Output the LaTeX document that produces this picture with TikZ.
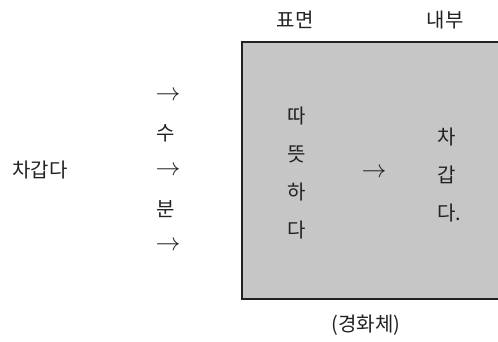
\documentclass[tikz,border=0pt]{standalone}
\usepackage{fontspec}
\newfontfamily\kr{Noto Sans CJK KR}
\definecolor{boxgray}{HTML}{C6C6C6}
\definecolor{ink}{HTML}{222222}
\tikzset{
  lbl/.style={font=\kr\fontsize{20}{22}\selectfont, text=ink, inner sep=0pt},
  arr/.style={font=\fontsize{23}{24}\selectfont, text=ink, inner sep=0pt},
}
\begin{document}
\begin{tikzpicture}[x=1pt,y=-1pt]
\useasboundingbox (0,0) rectangle (498,342);
\fill[boxgray] (242,42) rectangle (498,299);
\draw[ink, line width=1.2pt] (498,42) -- (242,42) -- (242,299) -- (498,299);
\node[lbl] (surf) at (295,20) {표면};
\node[lbl] (inner) at (445,20) {내부};
\node[lbl] (cold) at (40,170) {차갑다};
\node[arr] (a1) at (168,96) {$\rightarrow$};
\node[lbl] (su) at (166,133) {수};
\node[arr] (a2) at (168,171) {$\rightarrow$};
\node[lbl] (bun) at (166,209) {분};
\node[arr] (a3) at (168,246) {$\rightarrow$};
\node[lbl] (w1) at (297,116) {따};
\node[lbl] (w2) at (297,154) {뜻};
\node[lbl] (w3) at (297,192) {하};
\node[lbl] (w4) at (297,230) {다};
\node[arr] (a4) at (374,173) {$\rightarrow$};
\node[lbl] (c1) at (447,137) {차};
\node[lbl] (c2) at (447,175) {갑};
\node[lbl, anchor=west] (c3) at (437,213) {다.};
\node[lbl] (hard) at (366,325) {(경화체)};
\end{tikzpicture}
\end{document}
